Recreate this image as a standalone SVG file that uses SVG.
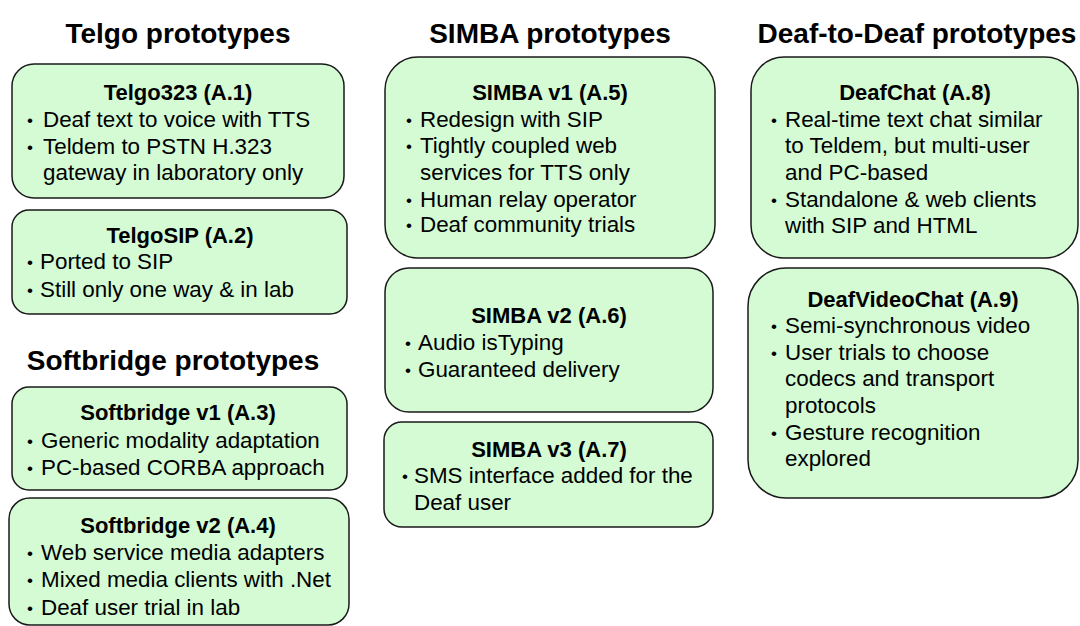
<svg xmlns="http://www.w3.org/2000/svg" width="1080" height="626" viewBox="0 0 1080 626">
<style>
.box{fill:#d4fbd4;stroke:#1a1a1a;stroke-width:1.5}
.h{font-family:"Liberation Sans",Arial,sans-serif;font-weight:bold;font-size:28px;fill:#000;text-anchor:middle}
.t{font-family:"Liberation Sans",Arial,sans-serif;font-weight:bold;font-size:22px;fill:#000;text-anchor:middle}
.b{font-family:"Liberation Sans",Arial,sans-serif;font-size:22.4px;fill:#000}
.d{font-family:"Liberation Sans",Arial,sans-serif;font-size:17px;fill:#000}
</style>
<rect width="1080" height="626" fill="#fff"/>
<g id="headings">
<text class="h" x="178" y="43">Telgo prototypes</text>
<text class="h" x="173" y="370">Softbridge prototypes</text>
<text class="h" x="550" y="43">SIMBA prototypes</text>
<text class="h" x="917" y="43">Deaf-to-Deaf prototypes</text>
</g>
<g id="A1">
<rect class="box" x="12" y="64" width="332" height="134" rx="22"/>
<text class="t" x="178" y="100">Telgo323 (A.1)</text>
<text class="d" x="27" y="126">•</text><text class="b" x="43" y="127">Deaf text to voice with TTS</text>
<text class="d" x="27" y="153">•</text><text class="b" x="43" y="154">Teldem to PSTN H.323</text>
<text class="b" x="43" y="180">gateway in laboratory only</text>
</g>
<g id="A2">
<rect class="box" x="12" y="210" width="335" height="104" rx="17"/>
<text class="t" x="180" y="243">TelgoSIP (A.2)</text>
<text class="d" x="27" y="268">•</text><text class="b" x="40" y="269">Ported to SIP</text>
<text class="d" x="27" y="296">•</text><text class="b" x="40" y="297">Still only one way &amp; in lab</text>
</g>
<g id="A3">
<rect class="box" x="12" y="387" width="335" height="103" rx="17"/>
<text class="t" x="178" y="420">Softbridge v1 (A.3)</text>
<text class="d" x="27" y="447">•</text><text class="b" x="41" y="448">Generic modality adaptation</text>
<text class="d" x="27" y="474">•</text><text class="b" x="41" y="475">PC-based CORBA approach</text>
</g>
<g id="A4">
<rect class="box" x="9" y="498" width="340" height="127" rx="21"/>
<text class="t" x="178" y="533">Softbridge v2 (A.4)</text>
<text class="d" x="27" y="559">•</text><text class="b" x="41" y="560">Web service media adapters</text>
<text class="d" x="27" y="586">•</text><text class="b" x="41" y="587">Mixed media clients with .Net</text>
<text class="d" x="27" y="614">•</text><text class="b" x="41" y="615">Deaf user trial in lab</text>
</g>
<g id="A5">
<rect class="box" x="385" y="57" width="330" height="201" rx="33"/>
<text class="t" x="550" y="100">SIMBA v1 (A.5)</text>
<text class="d" x="406" y="126">•</text><text class="b" x="420" y="127">Redesign with SIP</text>
<text class="d" x="406" y="152">•</text><text class="b" x="420" y="153">Tightly coupled web</text>
<text class="b" x="420" y="180">services for TTS only</text>
<text class="d" x="406" y="206">•</text><text class="b" x="420" y="207">Human relay operator</text>
<text class="d" x="406" y="231">•</text><text class="b" x="420" y="232">Deaf community trials</text>
</g>
<g id="A6">
<rect class="box" x="385" y="268" width="328" height="144" rx="24"/>
<text class="t" x="549" y="323">SIMBA v2 (A.6)</text>
<text class="d" x="405" y="349">•</text><text class="b" x="418" y="350">Audio isTyping</text>
<text class="d" x="405" y="376">•</text><text class="b" x="418" y="377">Guaranteed delivery</text>
</g>
<g id="A7">
<rect class="box" x="384" y="422" width="329" height="105" rx="18"/>
<text class="t" x="549" y="457">SIMBA v3 (A.7)</text>
<text class="d" x="402" y="482">•</text><text class="b" x="414" y="483">SMS interface added for the</text>
<text class="b" x="414" y="510">Deaf user</text>
</g>
<g id="A8">
<rect class="box" x="751" y="57" width="327" height="201" rx="33"/>
<text class="t" x="915" y="100">DeafChat (A.8)</text>
<text class="d" x="771" y="126">•</text><text class="b" x="785" y="127">Real-time text chat similar</text>
<text class="b" x="785" y="153">to Teldem, but multi-user</text>
<text class="b" x="785" y="180">and PC-based</text>
<text class="d" x="771" y="206">•</text><text class="b" x="785" y="207">Standalone &amp; web clients</text>
<text class="b" x="785" y="233">with SIP and HTML</text>
</g>
<g id="A9">
<rect class="box" x="748" y="268" width="330" height="230" rx="38"/>
<text class="t" x="913" y="307">DeafVideoChat (A.9)</text>
<text class="d" x="771" y="332">•</text><text class="b" x="785" y="333">Semi-synchronous video</text>
<text class="d" x="771" y="359">•</text><text class="b" x="785" y="360">User trials to choose</text>
<text class="b" x="785" y="386">codecs and transport</text>
<text class="b" x="785" y="413">protocols</text>
<text class="d" x="771" y="439">•</text><text class="b" x="785" y="440">Gesture recognition</text>
<text class="b" x="785" y="466">explored</text>
</g>
<g id="connectors"/>
</svg>
